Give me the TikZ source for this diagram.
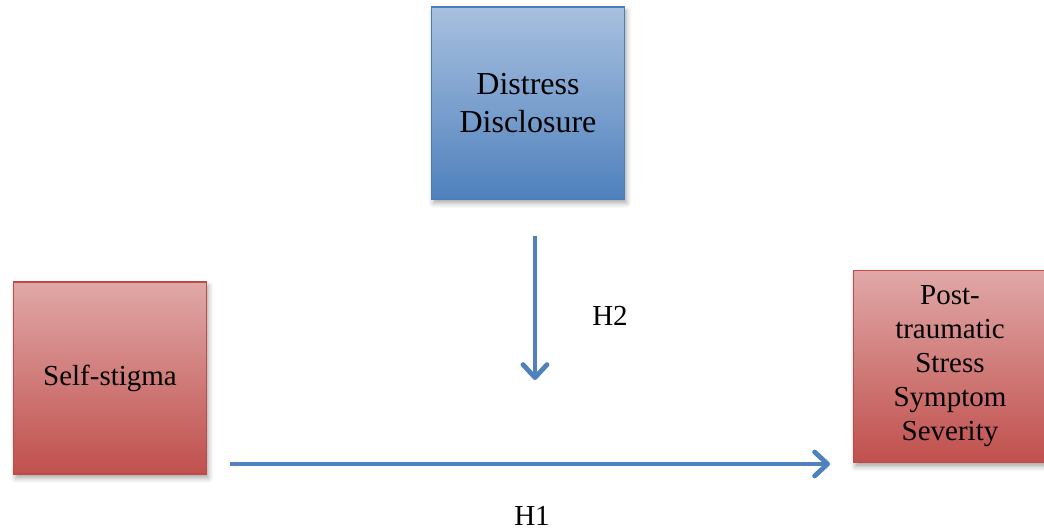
\documentclass[tikz,border=0pt]{standalone}
\usepackage{fontspec}
\setmainfont{Liberation Serif}
\usetikzlibrary{arrows.meta,shadows.blur}
\definecolor{bluetop}{RGB}{168,192,223}
\definecolor{bluebot}{RGB}{79,129,189}
\definecolor{blueline}{RGB}{74,126,187}
\definecolor{redtop}{RGB}{224,168,167}
\definecolor{redbot}{RGB}{192,80,77}
\definecolor{redline}{RGB}{190,75,72}
\definecolor{arrowblue}{RGB}{79,129,189}
\tikzset{
  box/.style={minimum width=193pt, minimum height=192pt, inner sep=0pt, align=center, line width=1.5pt,
    blur shadow={shadow xshift=2pt, shadow yshift=-4pt, shadow blur radius=5pt, shadow opacity=35}},
  bluebox/.style={box, draw=blueline, top color=bluetop, bottom color=bluebot},
  redbox/.style={box, draw=redline, top color=redtop, bottom color=redbot},
  conn/.style={draw=arrowblue, line width=4.8pt, -{Straight Barb[length=13pt,width=24pt,round]}},
  lbl/.style={font=\fontsize{29}{34}\selectfont, inner sep=0pt}
}
\begin{document}
\begin{tikzpicture}[x=1pt,y=1pt]
\useasboundingbox (0,0) rectangle (1044,532);
\node[bluebox, font=\fontsize{32}{38}\selectfont] (dd) at (528,429) {Distress\\Disclosure};
\node[redbox, font=\fontsize{29}{34}\selectfont] (ss) at (110,154) {Self-stigma};
\node[redbox, font=\fontsize{29}{34}\selectfont] (pt) at (950,165.5) {Post-\\traumatic\\Stress\\Symptom\\Severity};
\coordinate (h2a) at (535,296);
\coordinate (h2b) at (535,152);
\coordinate (h1a) at (230,68);
\coordinate (h1b) at (830,68);
\draw[conn] (h2a) -- (h2b);
\draw[conn] (h1a) -- (h1b);
\node[lbl] (h2) at (610,216) {H2};
\node[lbl] (h1) at (532,16) {H1};
\end{tikzpicture}
\end{document}
